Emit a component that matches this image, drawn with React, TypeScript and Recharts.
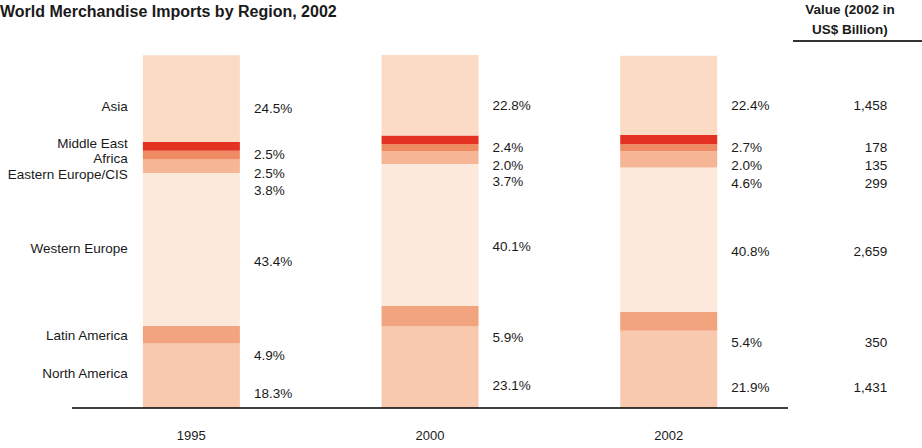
import { BarChart, Bar, XAxis, YAxis, LabelList } from 'recharts'

const years = ['1995', '2000', '2002']

// share of world merchandise imports (%), bottom of the stack first
const northAmerica = [18.3, 23.1, 21.9]
const latinAmerica = [4.9, 5.9, 5.4]
const westernEurope = [43.4, 40.1, 40.8]
const easternEurope = [3.8, 3.7, 4.6]
const africa = [2.5, 2.0, 2.0]
const middleEast = [2.5, 2.4, 2.7]
const asia = [24.5, 22.8, 22.4]

const regionNames = [
  'North America',
  'Latin America',
  'Western Europe',
  'Eastern Europe/CIS',
  'Africa',
  'Middle East',
  'Asia',
]

// value in 2002, US$ billion
const values2002 = [1431, 350, 2659, 299, 135, 178, 1458]

const FONT = '"Liberation Sans", Arial, Helvetica, sans-serif'
const TEXT = '#1a1a1a'

// nameDy / pctDy nudge the text off the segment middle so small slices don't collide
const series = [
  { key: 'northAmerica', values: northAmerica, color: '#F8C9AE', nameDy: -2, pctDy: 18 },
  { key: 'latinAmerica', values: latinAmerica, color: '#F2A47E', nameDy: 1, pctDy: 21 },
  { key: 'westernEurope', values: westernEurope, color: '#FDE9DC', nameDy: -1, pctDy: 12 },
  { key: 'easternEurope', values: easternEurope, color: '#F6B695', nameDy: 8, pctDy: 24 },
  { key: 'africa', values: africa, color: '#EE8B62', nameDy: 3, pctDy: 18 },
  { key: 'middleEast', values: middleEast, color: '#E33222', nameDy: -3, pctDy: 8 },
  { key: 'asia', values: asia, color: '#FCDBC5', nameDy: 8, pctDy: 10 },
]

const data = years.map((year, i) => {
  const row: any = { year }
  series.forEach((s) => {
    row[s.key] = s.values[i]
  })
  return row
})

const formatValue = (v: number) => new Intl.NumberFormat('en-US').format(v)

const makeLabel = (seriesIndex: number) => (props: any) => {
  const { x, y, width, height, value, index } = props
  const s = series[seriesIndex]
  const cy = Number(y) + Number(height) / 2
  const right = Number(x) + Number(width)
  const common = { fontSize: 13.5, fontFamily: FONT, fill: TEXT, dominantBaseline: 'central' as const }
  return (
    <g>
      {index === 0 && (
        <text x={Number(x) - 15} y={cy + s.nameDy} textAnchor="end" {...common}>
          {regionNames[seriesIndex]}
        </text>
      )}
      <text x={right + 14} y={cy + s.pctDy} textAnchor="start" {...common}>
        {`${Number(value).toFixed(1)}%`}
      </text>
      {index === years.length - 1 && (
        <text x={right + 170} y={cy + s.pctDy} textAnchor="end" {...common}>
          {formatValue(values2002[seriesIndex])}
        </text>
      )}
    </g>
  )
}

export default function App() {
  return (
    <div style={{ position: 'absolute', left: 0, top: 0, width: 922, height: 448, background: '#fff', fontFamily: FONT }}>
      <div style={{ position: 'absolute', left: 0, top: 2, fontSize: 16, fontWeight: 'bold', lineHeight: '20px', color: TEXT, whiteSpace: 'nowrap' }}>
        World Merchandise Imports by Region, 2002
      </div>
      <div style={{ position: 'absolute', left: 780, top: 0, width: 140, textAlign: 'center', fontSize: 13.5, fontWeight: 'bold', lineHeight: '20px', color: TEXT }}>
        Value (2002 in
        <br />
        US$ Billion)
      </div>
      <div style={{ position: 'absolute', left: 793, top: 40, width: 129, height: 2, background: '#333' }} />

      <BarChart
        width={922}
        height={448}
        data={data}
        margin={{ top: 55, right: 134, left: 72, bottom: 10 }}
        barCategoryGap="29.7%"
      >
        <XAxis
          dataKey="year"
          height={30}
          axisLine={{ stroke: '#000', strokeWidth: 1.5 }}
          tickLine={false}
          tickMargin={17}
          tick={{ fontSize: 13, fill: TEXT, fontFamily: FONT }}
        />
        <YAxis hide type="number" domain={[0, 100]} />
        {series.map((s, i) => (
          <Bar key={s.key} dataKey={s.key} stackId="a" fill={s.color} isAnimationActive={false}>
            <LabelList dataKey={s.key} content={makeLabel(i)} />
          </Bar>
        ))}
      </BarChart>
    </div>
  )
}
